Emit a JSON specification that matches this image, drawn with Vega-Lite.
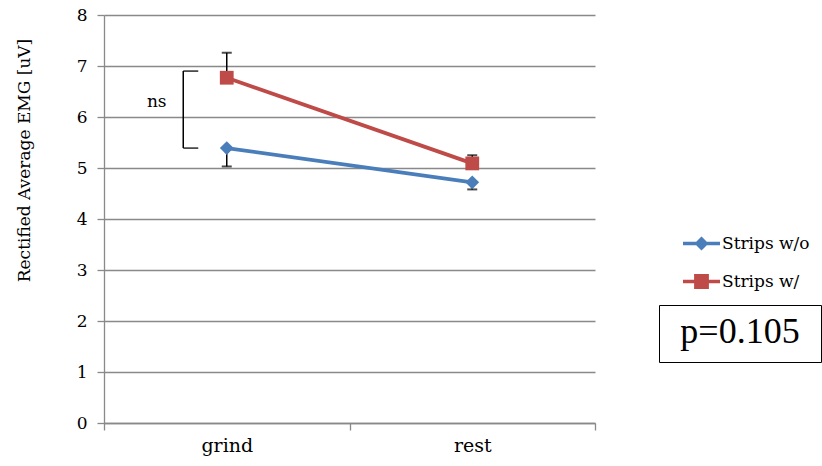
{
  "$schema": "https://vega.github.io/schema/vega-lite/v6.json",
  "autosize": {"type": "none"},
  "width": 491,
  "height": 408,
  "padding": {"left": 104, "top": 15, "right": 227, "bottom": 43},
  "background": "white",
  "config": {
    "view": {"stroke": null},
    "font": "DejaVu Serif",
    "axis": {
      "labelFont": "DejaVu Serif",
      "titleFont": "DejaVu Serif",
      "labelColor": "#000000",
      "titleColor": "#000000",
      "domainColor": "#898989",
      "tickColor": "#898989",
      "gridColor": "#898989",
      "domainWidth": 1.3,
      "tickWidth": 1.3,
      "gridWidth": 1.3
    },
    "legend": {"labelFont": "DejaVu Serif", "titleFont": "DejaVu Serif"}
  },
  "datasets": {
    "pts": [
      {"phase": "grind", "series": "Strips w/o", "v": 5.39, "e": 5.03},
      {"phase": "rest", "series": "Strips w/o", "v": 4.72, "e": 4.58},
      {"phase": "grind", "series": "Strips w/", "v": 6.77, "e": 7.26},
      {"phase": "rest", "series": "Strips w/", "v": 5.09, "e": 5.25}
    ],
    "bracket": [
      {"phase": "grind", "lo": 5.39, "hi": 6.90, "label": "ns", "ly": 6.30}
    ],
    "pbox": [
      {"phase": "grind", "v": 0, "p": "p=0.105"}
    ]
  },
  "layer": [
    {
      "data": {"name": "pts"},
      "mark": {"type": "rule", "color": "#000000", "strokeWidth": 1.5},
      "encoding": {
        "x": {
          "field": "phase", "type": "nominal", "title": null,
          "scale": {"domain": ["grind", "rest"], "paddingInner": 0, "paddingOuter": 0},
          "axis": {"labelAngle": 0, "tickBand": "extent", "grid": false, "tickSize": 7, "labelFontSize": 19, "labelPadding": 6}
        },
        "y": {
          "field": "v", "type": "quantitative", "title": "Rectified Average EMG [uV]",
          "scale": {"domain": [0, 8], "nice": false, "zero": true},
          "axis": {"values": [0, 1, 2, 3, 4, 5, 6, 7, 8], "tickSize": 7, "labelFontSize": 17, "labelPadding": 10, "titleFontSize": 17, "titleFontWeight": "normal", "titleX": -80, "titleY": 145, "titleBaseline": "middle", "titleAlign": "center", "titleAngle": -90}
        },
        "y2": {"field": "e"}
      }
    },
    {
      "data": {"name": "pts"},
      "mark": {"type": "tick", "color": "#000000", "size": 10, "thickness": 2},
      "encoding": {
        "x": {"field": "phase", "type": "nominal", "title": null},
        "y": {"field": "e", "type": "quantitative", "title": "Rectified Average EMG [uV]"}
      }
    },
    {
      "data": {"name": "pts"},
      "mark": {"type": "line", "strokeWidth": 3.8},
      "encoding": {
        "x": {"field": "phase", "type": "nominal", "title": null},
        "y": {"field": "v", "type": "quantitative", "title": "Rectified Average EMG [uV]"},
        "color": {
          "field": "series", "type": "nominal",
          "scale": {"domain": ["Strips w/o", "Strips w/"], "range": ["#4A7EBB", "#BE4B48"]}
        }
      }
    },
    {
      "data": {"name": "pts"},
      "transform": [{"filter": "datum.series === 'Strips w/o'"}],
      "mark": {"type": "point", "shape": "diamond", "filled": true, "opacity": 1, "size": 190},
      "encoding": {
        "x": {"field": "phase", "type": "nominal", "title": null},
        "y": {"field": "v", "type": "quantitative", "title": "Rectified Average EMG [uV]"},
        "color": {"field": "series", "type": "nominal"}
      }
    },
    {
      "data": {"name": "pts"},
      "transform": [{"filter": "datum.series === 'Strips w/'"}],
      "mark": {"type": "point", "shape": "square", "filled": true, "opacity": 1, "size": 190},
      "encoding": {
        "x": {"field": "phase", "type": "nominal", "title": null},
        "y": {"field": "v", "type": "quantitative", "title": "Rectified Average EMG [uV]"},
        "color": {"field": "series", "type": "nominal"}
      }
    },
    {
      "data": {"name": "bracket"},
      "mark": {"type": "rule", "color": "#000000", "strokeWidth": 1.5, "xOffset": -43.5},
      "encoding": {
        "x": {"field": "phase", "type": "nominal", "title": null},
        "y": {"field": "lo", "type": "quantitative", "title": "Rectified Average EMG [uV]"},
        "y2": {"field": "hi"}
      }
    },
    {
      "data": {"name": "bracket"},
      "mark": {"type": "tick", "color": "#000000", "size": 15, "thickness": 1.8, "xOffset": -36},
      "encoding": {
        "x": {"field": "phase", "type": "nominal", "title": null},
        "y": {"field": "lo", "type": "quantitative", "title": "Rectified Average EMG [uV]"}
      }
    },
    {
      "data": {"name": "bracket"},
      "mark": {"type": "tick", "color": "#000000", "size": 15, "thickness": 1.8, "xOffset": -36},
      "encoding": {
        "x": {"field": "phase", "type": "nominal", "title": null},
        "y": {"field": "hi", "type": "quantitative", "title": "Rectified Average EMG [uV]"}
      }
    },
    {
      "data": {"name": "bracket"},
      "mark": {"type": "text", "font": "DejaVu Serif", "fontSize": 17, "color": "#000000", "xOffset": -70, "baseline": "middle", "align": "center"},
      "encoding": {
        "x": {"field": "phase", "type": "nominal", "title": null},
        "y": {"field": "ly", "type": "quantitative", "title": "Rectified Average EMG [uV]"},
        "text": {"field": "label"}
      }
    },
    {
      "data": {"name": "pts"},
      "mark": {"type": "point", "filled": true, "opacity": 0},
      "encoding": {
        "x": {"field": "phase", "type": "nominal", "title": null},
        "y": {"field": "v", "type": "quantitative", "title": "Rectified Average EMG [uV]"},
        "color": {
          "field": "series", "type": "nominal",
          "legend": {
            "title": null, "orient": "none", "legendX": 579, "legendY": 210,
            "padding": 0, "rowPadding": 11, "symbolSize": 1369, "symbolOpacity": 1,
            "symbolStrokeWidth": 0, "labelFontSize": 17, "labelColor": "#000000", "labelOffset": 2
          }
        },
        "shape": {
          "field": "series", "type": "nominal",
          "scale": {
            "domain": ["Strips w/o", "Strips w/"],
            "range": [
              "M-1,-0.1H1V0.1H-1Z M0,-0.38L0.38,0L0,0.38L-0.38,0Z",
              "M-1,-0.1H1V0.1H-1Z M-0.4,-0.4H0.4V0.4H-0.4Z"
            ]
          },
          "legend": {
            "title": null, "orient": "none", "legendX": 579, "legendY": 210,
            "padding": 0, "rowPadding": 11, "symbolSize": 1369, "symbolOpacity": 1,
            "symbolStrokeWidth": 0, "labelFontSize": 17, "labelColor": "#000000", "labelOffset": 2
          }
        }
      }
    },
    {
      "data": {"name": "pbox"},
      "mark": {"type": "point", "opacity": 0},
      "encoding": {
        "x": {"field": "phase", "type": "nominal", "title": null},
        "y": {"field": "v", "type": "quantitative", "title": "Rectified Average EMG [uV]"},
        "strokeDash": {
          "field": "p", "type": "nominal",
          "legend": {
            "title": "p=0.105", "titleFont": "Liberation Serif", "titleFontSize": 36, "titleFontWeight": "normal", "titleColor": "#000000",
            "titleAnchor": "middle", "titlePadding": 0,
            "orient": "none", "legendX": 555, "legendY": 290,
            "padding": 10, "symbolType": "circle", "symbolSize": 0, "symbolOpacity": 0, "symbolStrokeWidth": 0,
            "labelExpr": "''", "labelFontSize": 1, "labelOffset": 141,
            "strokeColor": "#000000",
            "encode": {"legend": {"update": {"strokeWidth": {"value": 1.6}}}}
          }
        }
      }
    }
  ]
}
